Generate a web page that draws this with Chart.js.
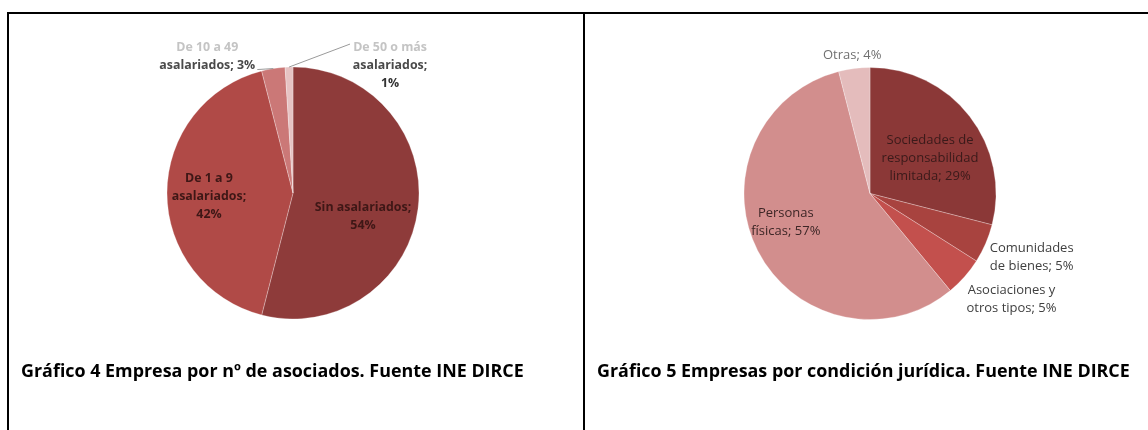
<!DOCTYPE html>
<html>
<head>
<meta charset="utf-8">
<script src="https://cdn.jsdelivr.net/npm/chart.js@4"></script>
<style>
  body { margin: 0; width: 1148px; height: 430px; background: #fff; position: relative; overflow: hidden; font-family: "Open Sans", sans-serif; }
  .linea { position: absolute; background: #000; z-index: 2; }
  .caja { position: absolute; }
  .pie-foto { position: absolute; font-weight: bold; font-size: 17.9px; color: #000; white-space: nowrap; line-height: 20px; }
</style>
</head>
<body>
<div class="linea" style="left:7px;top:12px;width:1141px;height:2px"></div>
<div class="linea" style="left:7px;top:12px;width:2px;height:418px"></div>
<div class="linea" style="left:583px;top:12px;width:2px;height:418px"></div>

<div class="caja" style="left:9px;top:23px;width:568px;height:340px"><canvas id="grafico4"></canvas></div>
<div class="caja" style="left:584px;top:23px;width:572px;height:341px"><canvas id="grafico5"></canvas></div>

<div class="pie-foto" style="left:21px;top:360px">Gráfico 4 Empresa por nº de asociados. Fuente INE DIRCE</div>
<div class="pie-foto" style="left:597px;top:360px">Gráfico 5 Empresas por condición jurídica. Fuente INE DIRCE</div>

<script>
// datos (porcentajes)
var categorias4 = ['Sin asalariados', 'De 1 a 9 asalariados', 'De 10 a 49 asalariados', 'De 50 o más asalariados'];
var valores4 = [54, 42, 3, 1];
var colores4 = ['#8e3b3a', '#b04a47', '#cb7877', '#e6c3c3'];

var categorias5 = ['Sociedades de responsabilidad limitada', 'Comunidades de bienes', 'Asociaciones y otros tipos', 'Personas físicas', 'Otras'];
var valores5 = [29, 5, 5, 57, 4];
var colores5 = ['#8b3837', '#a8433f', '#c3504d', '#d28e8d', '#e4bcbc'];

// etiquetas "categoria; valor%" dibujadas sobre cada sector
var etiquetas = {
	id: 'etiquetas',
	afterDatasetsDraw: function(chart, args, opts) {
		var ctx = chart.ctx;
		var meta = chart.getDatasetMeta(0);
		var labels = chart.data.labels;
		var data = chart.data.datasets[0].data;
		ctx.save();
		ctx.font = opts.font;
		ctx.textAlign = 'center';
		ctx.textBaseline = 'middle';
		meta.data.forEach(function(arc, i) {
			var c = opts.items[i];
			var p = arc.getProps(['x', 'y', 'startAngle', 'endAngle', 'outerRadius'], true);
			var mid = (p.startAngle + p.endAngle) / 2;
			var ax = p.x + Math.cos(mid) * p.outerRadius * c.f + c.dx;
			var ay = p.y + Math.sin(mid) * p.outerRadius * c.f + c.dy;

			if (c.guia) {
				ctx.strokeStyle = '#9a9a9a';
				ctx.lineWidth = 1;
				ctx.beginPath();
				ctx.moveTo(ax + c.guia[0], ay + c.guia[1]);
				ctx.lineTo(p.x + Math.cos(mid) * p.outerRadius, p.y + Math.sin(mid) * p.outerRadius);
				ctx.stroke();
			}

			var palabras = (labels[i] + '; ' + data[i] + '%').split(' ');
			var lineas = [];
			var k = 0;
			c.wrap.forEach(function(n) {
				lineas.push(palabras.slice(k, k + n).join(' '));
				k += n;
			});
			var y0 = ay - (lineas.length - 1) * opts.lineHeight / 2;
			lineas.forEach(function(t, j) {
				ctx.fillStyle = c.colors[j] || c.colors[c.colors.length - 1];
				ctx.fillText(t, ax, y0 + j * opts.lineHeight);
			});
		});
		ctx.restore();
	}
};

function crearPie(id, categorias, valores, colores, items, font) {
	return new Chart(document.getElementById(id).getContext('2d'), {
		type: 'pie',
		data: {
			labels: categorias,
			datasets: [{
				data: valores,
				backgroundColor: colores,
				borderColor: 'rgba(255,255,255,0.35)',
				borderWidth: 0.8,
				radius: 126
			}]
		},
		options: {
			responsive: true,
			maintainAspectRatio: false,
			animation: false,
			layout: { padding: 0 },
			plugins: {
				legend: { display: false },
				tooltip: { enabled: false },
				etiquetas: { font: font, lineHeight: 18, items: items }
			}
		},
		plugins: [etiquetas]
	});
}

crearPie('grafico4', categorias4, valores4, colores4, [
	{ f: 0.56, dx: 0, dy: 15, wrap: [2, 1], colors: ['#3e1716'] },
	{ f: 0.667, dx: 0, dy: 3, wrap: [4, 1, 1], colors: ['#3e1716'] },
	{ f: 1, dx: -66, dy: -12, wrap: [4, 2], colors: ['#c4c4c4', '#4a4a4a'], guia: [50, 13] },
	{ f: 1, dx: 101, dy: -2, wrap: [4, 1, 1], colors: ['#c4c4c4', '#4a4a4a', '#333333'], guia: [-40, -21] }
], 'bold 12.4px "Open Sans"');

crearPie('grafico5', categorias5, valores5, colores5, [
	{ f: 0.583, dx: 2, dy: 10, wrap: [2, 1, 2], colors: ['#3a1a1a'] },
	{ f: 1, dx: 46, dy: 14, wrap: [1, 3], colors: ['#404040'] },
	{ f: 1, dx: 47, dy: 22, wrap: [2, 3], colors: ['#404040'] },
	{ f: 0.75, dx: 0, dy: -14, wrap: [1, 2], colors: ['#3d2626'] },
	{ f: 1, dx: -2, dy: -13, wrap: [2], colors: ['#707070'] }
], '13px "Open Sans"');
</script>
</body>
</html>
